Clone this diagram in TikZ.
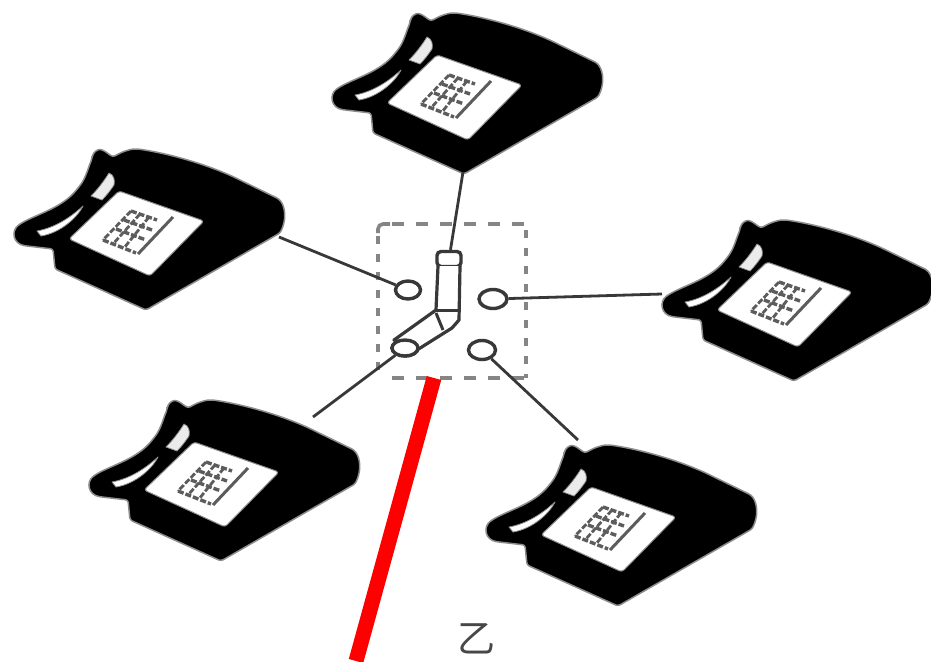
\documentclass[tikz,border=0pt]{standalone}
\usepackage{fontspec}
\newfontfamily\cjk{Noto Sans CJK SC}
\usetikzlibrary{shapes.geometric}
\definecolor{linegray}{gray}{0.22}
\definecolor{boxgray}{gray}{0.52}
\definecolor{keygray}{gray}{0.36}
\tikzset{
  x=1pt,y=-1pt,
  wire/.style={draw=linegray,line width=2.8pt},
  terminal/.style={ellipse,draw=linegray,line width=3.4pt,fill=white,minimum width=25pt,minimum height=18pt,inner sep=0pt},
  boxdashh/.style={draw=boxgray,line width=3.6pt,dash pattern=on 12pt off 12pt},
  boxdashv/.style={draw=boxgray,line width=3.6pt,dash pattern=on 8pt off 10pt},
  phonepic/.pic={
    \fill[black,draw=black!45,line width=1.5pt,rounded corners=2.5pt,line join=round]
      (410,23) .. controls (411,16) and (416,13) .. (421,14)
      -- (431,21) .. controls (438,17) and (446,13) .. (456,13)
      .. controls (490,18) and (530,30) .. (560,45)
      -- (597,63) .. controls (604,72) and (604,85) .. (598,97)
      -- (464,174) -- (373,133) -- (371,113) -- (345,110)
      .. controls (331,108) and (329,95) .. (338,88)
      .. controls (355,78) and (380,72) .. (396,52)
      .. controls (404,42) and (406,32) .. (410,23) -- cycle;
    \fill[white,line join=round,rounded corners=3pt,draw=black!45,line width=1pt] (387,103) -- (437,55) -- (522,85) -- (468,140) -- cycle;
    \fill[white,draw=black!45,line width=.8pt,line join=round] (355,95) .. controls (372,92) and (388,82) .. (401,70) .. controls (395,82) and (378,97) .. (359,100) -- cycle;
    \fill[white!92!black,draw=black!45,line width=.8pt,line join=round] (409,60) .. controls (416,53) and (422,45) .. (427,37) .. controls (432,39) and (433,44) .. (432,49) .. controls (428,55) and (424,60) .. (420,64) -- cycle;
    \draw[keygray,line width=3pt] (491,81) -- (456,118);
    \foreach \a/\b/\c/\d in {449/75/475/84, 442/84/470/94, 434/93/464/104, 421/104/454/117}{
      \draw[keygray,line width=3.4pt,dash pattern=on 6pt off 2pt] (\a,\b) -- (\c,\d);
    }
    \foreach \a/\b/\c/\d in {449/75/421/104, 458/78/431/108, 467/81/442/112}{
      \draw[keygray,line width=2.8pt,dash pattern=on 6pt off 2pt] (\a,\b) -- (\c,\d);
    }
  }
}
\begin{document}
\begin{tikzpicture}
\useasboundingbox[fill=white] (0,0) rectangle (931,661);
% telephones
\pic at (0,0) {phonepic};
\pic at (-318,136) {phonepic};
\pic at (330,207) {phonepic};
\pic at (-243,387) {phonepic};
\pic at (154,432) {phonepic};
% exchange box
\draw[boxdashh] (392,224) -- (525,224);
\draw[boxdashh] (392,378) -- (525,378);
\draw[boxdashv] (378,236) -- (378,378);
\draw[boxdashv] (526,230) -- (526,378);
\draw[boxgray,line width=3.6pt,rounded corners=5pt] (378,233) -- (378,224) -- (390,224);
% free ends at the telephones
\coordinate (phoneTop) at (463,172);
\coordinate (phoneLeft) at (279,237);
\coordinate (phoneRight) at (662,294);
\coordinate (phoneLowLeft) at (313,417);
\coordinate (phoneLowRight) at (578,440);
% terminals
\node[terminal] (tLeft) at (408,290) {};
\node[terminal,minimum width=28pt,minimum height=19pt] (tRight) at (493,299) {};
\node[terminal,minimum width=27pt,minimum height=19pt] (tLowRight) at (482,350) {};
\node[terminal,minimum width=26pt,minimum height=16pt] (tLowLeft) at (405,348) {};
\node[draw=linegray,line width=3.4pt,rounded corners=4pt,minimum width=24pt,minimum height=15pt,inner sep=0pt] (tTop) at (449,259) {};
% connectors
\draw[wire] (phoneTop) -- (tTop);
\draw[wire] (phoneLeft) -- (tLeft);
\draw[wire] (phoneRight) -- (tRight);
\draw[wire] (phoneLowLeft) -- (tLowLeft);
\draw[wire] (phoneLowRight) -- (tLowRight);
% switch blade
\draw[linegray,line width=3.2pt,fill=white,line join=round]
  (438,266) -- (436,310) -- (394,340) -- (417,350) -- (452,328) -- (459,320) -- (460,266);
\draw[linegray,line width=3pt] (436,310) -- (459,310);
\draw[linegray,line width=3pt] (436,313) -- (443,330);
\node[terminal,minimum width=26pt,minimum height=16pt] (tLowLeftTop) at (405,348) {};
% selection marker
\coordinate (redTop) at (434,378);
\coordinate (redEnd) at (356,661);
\draw[red,line width=15pt] (redTop) -- (redEnd);
% label
\node[text=black!72,font=\cjk\fontsize{38}{38}\selectfont,inner sep=0pt] (lbl) at (476,639) {乙};
\end{tikzpicture}
\end{document}
